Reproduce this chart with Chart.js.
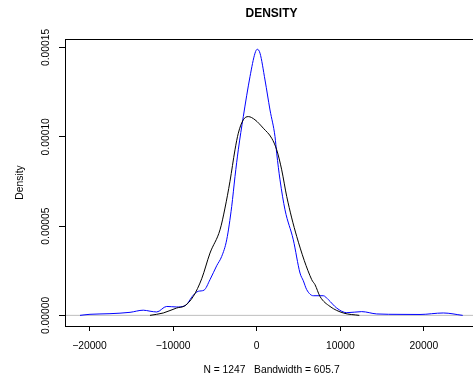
<!DOCTYPE html>
<html>
<head>
<meta charset="UTF-8">
<title>DENSITY</title>
<script src="https://cdn.jsdelivr.net/npm/chart.js"></script>
<style>
  html, body { margin: 0; padding: 0; overflow: hidden; background: #fff; }
</style>
</head>
<body>
<canvas id="densChart" width="483" height="380"></canvas>
<script>
// tick positions
const X_TICKS = [-20000, -10000, 0, 10000, 20000];
const Y_TICKS = [0, 0.00005, 0.0001, 0.00015];

// black curve
const BLACK_X = [-12763, -11172, -9570, -8577, -7584, -6579, -5586, -4390, -3792, -3194, -2596, -2201, -1603, -1005, -203, 789, 1794, 2392, 2990, 3589, 4785, 6579, 6974, 7572, 8768, 10359, 12273];
const BLACK_Y = [0, 1.34e-6, 4.14e-6, 5.43e-6, 1.063e-5, 2.05e-5, 3.49e-5, 4.79e-5, 6.01e-5, 7.51e-5, 9.27e-5, 1.020e-4, 1.095e-4, 1.113e-4, 1.095e-4, 1.048e-4, 9.92e-5, 9.27e-5, 8.15e-5, 6.66e-5, 4.42e-5, 2.00e-5, 1.72e-5, 1.06e-5, 5.0e-6, 1.34e-6, 0];

// blue curve
const BLUE_X = [-21137, -19940, -17548, -15155, -13565, -12763, -11962, -10766, -9570, -8577, -7584, -6986, -6304, -5586, -4785, -4187, -3589, -2990, -2596, -2201, -1603, -801, -203, 72, 395, 993, 1591, 2189, 2392, 2787, 3385, 4378, 5180, 5574, 5981, 6771, 7967, 8565, 9570, 10766, 12560, 14354, 17141, 19533, 22320, 24641];
const BLUE_Y = [0, 6e-7, 9.5e-7, 1.7e-6, 2.9e-6, 2.35e-6, 1.9e-6, 5.0e-6, 4.7e-6, 5.4e-6, 1.13e-5, 1.35e-5, 1.41e-5, 2.00e-5, 2.78e-5, 3.30e-5, 4.23e-5, 6.10e-5, 7.77e-5, 9.27e-5, 1.113e-4, 1.337e-4, 1.468e-4, 1.490e-4, 1.468e-4, 1.318e-4, 1.150e-4, 1.001e-4, 9.08e-5, 7.59e-5, 5.91e-5, 4.23e-5, 2.37e-5, 1.94e-5, 1.44e-5, 1.10e-5, 1.10e-5, 8.8e-6, 4.1e-6, 1.5e-6, 2.1e-6, 8e-7, 5.6e-7, 5e-7, 1.34e-6, 0];

const X_MIN = -22930, X_MAX = 26470;
const Y_MIN = -5.95e-6, Y_MAX = 1.5475e-4;

const FONT = '"Liberation Sans", Arial, Helvetica, sans-serif';

function pts(xs, ys) {
  return xs.map((x, i) => ({ x: x, y: ys[i] }));
}

// R style text + box
const rDecor = {
  id: 'rDecor',
  afterDraw(chart) {
    const ctx = chart.ctx;
    const a = chart.chartArea;
    const xs = chart.scales.x, ys = chart.scales.y;
    ctx.save();
    ctx.strokeStyle = '#000';
    ctx.lineWidth = 1;
    ctx.strokeRect(Math.round(a.left) + 0.5, Math.round(a.top) + 0.5, Math.round(a.right - a.left), Math.round(a.bottom - a.top));

    ctx.fillStyle = '#000';
    ctx.textAlign = 'center';
    ctx.textBaseline = 'middle';
    const cx = (a.left + a.right) / 2;

    ctx.font = 'bold 12px ' + FONT;
    ctx.fillText('DENSITY', cx, 14);

    ctx.font = '10.3px ' + FONT;
    xs.ticks.forEach(t => {
      const s = t.value < 0 ? '\u2212' + Math.abs(t.value) : String(t.value);
      ctx.fillText(s, xs.getPixelForValue(t.value), 346);
    });
    ctx.fillText('N = 1247   Bandwidth = 605.7', cx, 370);

    ys.ticks.forEach(t => {
      ctx.save();
      ctx.translate(46.5, ys.getPixelForValue(t.value));
      ctx.rotate(-Math.PI / 2);
      ctx.fillText(t.value.toFixed(5), 0, 0);
      ctx.restore();
    });
    ctx.save();
    ctx.translate(20, (a.top + a.bottom) / 2);
    ctx.rotate(-Math.PI / 2);
    ctx.fillText('Density', 0, 0);
    ctx.restore();
    ctx.restore();
  }
};

new Chart(document.getElementById('densChart').getContext('2d'), {
  type: 'line',
  data: {
    datasets: [
      {
        label: 'black',
        data: pts(BLACK_X, BLACK_Y),
        borderColor: '#000000',
        borderWidth: 1,
        pointRadius: 0,
        cubicInterpolationMode: 'monotone',
        fill: false,
        order: 1
      },
      {
        label: 'blue',
        data: pts(BLUE_X, BLUE_Y),
        borderColor: '#0000ff',
        borderWidth: 1,
        pointRadius: 0,
        cubicInterpolationMode: 'monotone',
        fill: false,
        order: 2
      },
      {
        label: 'zero',
        data: [{ x: X_MIN, y: 0 }, { x: X_MAX, y: 0 }],
        borderColor: '#bebebe',
        borderWidth: 1,
        pointRadius: 0,
        fill: false,
        order: 3
      }
    ]
  },
  options: {
    responsive: false,
    animation: false,
    devicePixelRatio: 1,
    layout: { padding: { left: 0, top: 39, right: 5, bottom: 0 } },
    plugins: { legend: { display: false }, tooltip: { enabled: false } },
    scales: {
      x: {
        type: 'linear',
        min: X_MIN,
        max: X_MAX,
        afterBuildTicks: s => { s.ticks = X_TICKS.map(v => ({ value: v })); },
        afterFit: s => { s.height = 54; },
        ticks: { display: false },
        border: { display: false },
        grid: { drawOnChartArea: false, drawTicks: true, tickLength: 5, color: '#000', lineWidth: 1 }
      },
      y: {
        type: 'linear',
        min: Y_MIN,
        max: Y_MAX,
        afterBuildTicks: s => { s.ticks = Y_TICKS.map(v => ({ value: v })); },
        afterFit: s => { s.width = 65; },
        ticks: { display: false },
        border: { display: false },
        grid: { drawOnChartArea: false, drawTicks: true, tickLength: 6, color: '#000', lineWidth: 1 }
      }
    }
  },
  plugins: [rDecor]
});
</script>
</body>
</html>
